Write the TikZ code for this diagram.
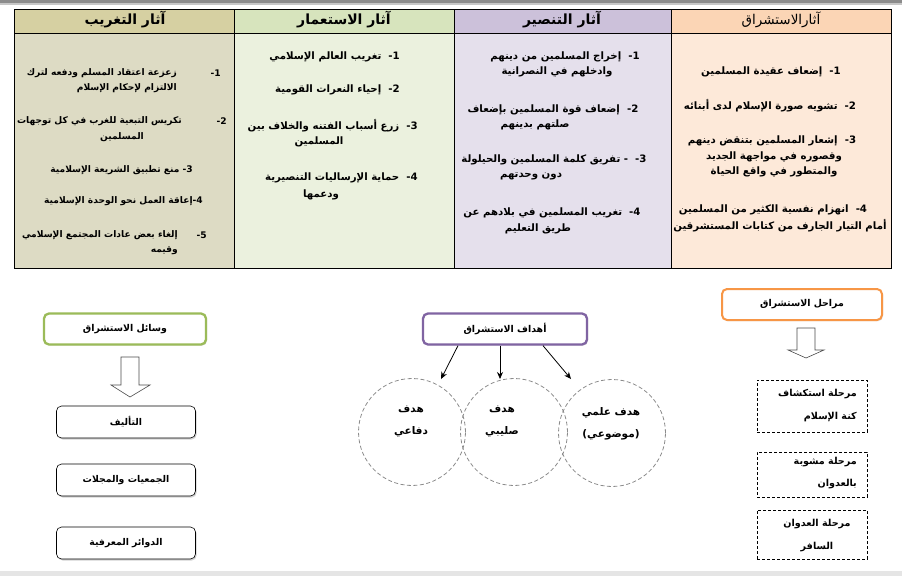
\documentclass[tikz,border=0pt]{standalone}
\usepackage{fontspec}
\newfontfamily\arabicfont[Script=Arabic]{DejaVu Sans}
\TeXXeTstate=1
\usetikzlibrary{arrows.meta,shadows}
\newcommand\ar[1]{\beginR #1\endR}
\definecolor{hdA}{HTML}{D6D0A2}
\definecolor{bdA}{HTML}{DDDBC4}
\definecolor{hdB}{HTML}{D7E4BD}
\definecolor{bdB}{HTML}{EBF1DE}
\definecolor{hdC}{HTML}{CCC1DA}
\definecolor{bdC}{HTML}{E5E0EC}
\definecolor{hdD}{HTML}{FBD5B5}
\definecolor{bdD}{HTML}{FDE9D9}
\definecolor{olivebd}{HTML}{9BBB59}
\definecolor{purplebd}{HTML}{8064A2}
\definecolor{orangebd}{HTML}{F79646}
\begin{document}
\begin{tikzpicture}[x=1pt,y=-1pt,
  txt/.style={font=\arabicfont\bfseries\fontsize{10.2}{12}\selectfont, inner sep=0pt},
  txs/.style={font=\arabicfont\bfseries\fontsize{9.1}{11}\selectfont, inner sep=0pt},
  hdr/.style={font=\arabicfont\bfseries\fontsize{14}{16}\selectfont, inner sep=0pt},
  re/.style={anchor=east},
  roundbox/.style={draw=black, line width=0.6pt, fill=white, rounded corners=5pt,
    minimum width=139pt, minimum height=32pt, inner sep=0pt,
    font=\arabicfont\bfseries\fontsize{9.3}{11}\selectfont,
    drop shadow={shadow xshift=1.2pt, shadow yshift=-1.5pt, fill=black!35}},
  headbox/.style={fill=white, rounded corners=5pt, line width=2.3pt, inner sep=0pt,
    minimum height=31pt, font=\arabicfont\bfseries\fontsize{9.4}{11}\selectfont,
    drop shadow={shadow xshift=1pt, shadow yshift=-1.2pt, fill=black!25}},
  dashbox/.style={draw=black, dashed, dash pattern=on 3pt off 2pt, line width=0.6pt,
    minimum width=110pt, inner sep=0pt},
  goal/.style={circle, draw=black!45, dash pattern=on 4pt off 2.5pt, line width=0.8pt,
    minimum size=107pt, inner sep=0pt},
  gtxt/.style={txt, align=center, font=\arabicfont\bfseries\fontsize{10.5}{22}\selectfont},
  hollow/.style={draw=black!70, fill=white, line width=0.6pt, line join=miter},
  arr/.style={-{Stealth[length=7pt,width=6pt]}, line width=0.8pt}
]
\useasboundingbox (0,0) rectangle (902,576);
\fill[white] (0,0) rectangle (902,576);
\fill[black!45] (0,0) rectangle (902,2.5);
\fill[black!22] (0,2.5) rectangle (902,5);
\fill[black!10] (0,571) rectangle (902,576);

% ---------- table ----------
\fill[hdA] (14,9) rectangle (234,33);  \fill[bdA] (14,33) rectangle (234,268);
\fill[hdB] (234,9) rectangle (454,33); \fill[bdB] (234,33) rectangle (454,268);
\fill[hdC] (454,9) rectangle (671,33); \fill[bdC] (454,33) rectangle (671,268);
\fill[hdD] (671,9) rectangle (891,33); \fill[bdD] (671,33) rectangle (891,268);
\draw[line width=0.8pt] (14,9) rectangle (891,268);
\draw[line width=0.8pt] (14,33) -- (891,33);
\foreach \xx in {234,454,671} \draw[line width=0.8pt] (\xx,9) -- (\xx,268);

\node[hdr] (h1) at (125,20) {\ar{آثار التغريب}};
\node[hdr] (h2) at (344,20) {\ar{آثار الاستعمار}};
\node[hdr] (h3) at (562,20) {\ar{آثار التنصير}};
\node[hdr, font=\arabicfont\fontsize{13.5}{16}\selectfont] (h4) at (781,20) {\ar{آثارالاستشراق}};

% column 1
\node[txs,re] (n11) at (221,73) {\ar{1-}};
\node[txs,re] (t11a) at (177,73) {\ar{زعزعة اعتقاد المسلم ودفعه لترك}};
\node[txs,re] (t11b) at (177,88) {\ar{الالتزام لإحكام الإسلام}};
\node[txs,re] (n12) at (227,121) {\ar{2-}};
\node[txs,re] (t12a) at (182,121) {\ar{تكريس التبعية للغرب في كل توجهات}};
\node[txs] (t12b) at (122,137) {\ar{المسلمين}};
\node[txs,re] (t13) at (193,170) {\ar{3- منع تطبيق الشريعة الإسلامية}};
\node[txs,re] (t14) at (203,201) {\ar{4-إعاقة العمل نحو الوحدة الإسلامية}};
\node[txs,re] (n15) at (207,235) {\ar{5-}};
\node[txs,re] (t15a) at (178,235) {\ar{إلغاء بعض عادات المجتمع الإسلامي}};
\node[txs,re] (t15b) at (178,251) {\ar{وقيمه}};

% column 2
\node[txt,re] (t21) at (400,57) {\ar{1-~~تغريب العالم الإسلامي}};
\node[txt,re] (t22) at (400,90) {\ar{2-~~إحياء النعرات القومية}};
\node[txt,re] (t23a) at (418,126) {\ar{3-~~زرع أسباب الفتنه والخلاف بين}};
\node[txt] (t23b) at (319,142) {\ar{المسلمين}};
\node[txt,re] (t24a) at (418,178) {\ar{4-~~حماية الإرساليات التنصيرية}};
\node[txt] (t24b) at (321,195) {\ar{ودعمها}};

% column 3
\node[txt] (t31a) at (565,57) {\ar{1-~~إخراج المسلمين من دينهم}};
\node[txt] (t31b) at (557,72) {\ar{وادخلهم في النصرانية}};
\node[txt] (t32a) at (553,110) {\ar{2-~~إضعاف قوة المسلمين بإضعاف}};
\node[txt] (t32b) at (535,125) {\ar{صلتهم بدينهم}};
\node[txt] (t33a) at (554,160) {\ar{3-~~- تفريق كلمة المسلمين والحيلولة}};
\node[txt] (t33b) at (531,176) {\ar{دون وحدتهم}};
\node[txt] (t34a) at (552,213) {\ar{4-~~تغريب المسلمين في بلادهم عن}};
\node[txt] (t34b) at (538,229) {\ar{طريق التعليم}};

% column 4
\node[txt] (t41) at (771,72) {\ar{1-~~إضعاف عقيدة المسلمين}};
\node[txt] (t42) at (770,106) {\ar{2-~~تشويه صورة الإسلام لدى أبنائه}};
\node[txt] (t43a) at (772,141) {\ar{3-~~إشعار المسلمين بتنقض دينهم}};
\node[txt] (t43b) at (774,157) {\ar{وقصوره في مواجهة الجديد}};
\node[txt] (t43c) at (774,172) {\ar{والمتطور في واقع الحياة}};
\node[txt] (t44a) at (773,210) {\ar{4-~~انهزام نفسية الكثير من المسلمين}};
\node[txt] (t44b) at (780,226) {\ar{أمام التيار الجارف من كتابات المستشرقين}};

% ---------- left: means ----------
\node[headbox, draw=olivebd, minimum width=162pt] (means) at (125,329) {\ar{وسائل الاستشراق}};
\draw[hollow] (121,357) -- (139,357) -- (139,385) -- (150,385) -- (130,397)
  -- (111,385) -- (121,385) -- cycle;
\node[roundbox] (m1) at (126,422) {\ar{التأليف}};
\node[roundbox] (m2) at (126,480) {\ar{الجمعيات والمجلات}};
\node[roundbox] (m3) at (126,543) {\ar{الدوائر المعرفية}};

% ---------- middle: goals ----------
\node[headbox, draw=purplebd, minimum width=164pt] (goals) at (505,329) {\ar{أهداف الاستشراق}};
\node[goal] (g1) at (412,432) {};
\node[goal] (g2) at (514,432) {};
\node[goal] (g3) at (612,433) {};
\node[gtxt] (g1t) at (411,421) {\ar{هدف}\\\ar{دفاعي}};
\node[gtxt] (g2t) at (502,421) {\ar{هدف}\\\ar{صليبي}};
\node[gtxt] (g3t) at (611,424) {\ar{هدف علمي}\\\ar{(موضوعي)}};
\coordinate (e1) at (441,379);
\coordinate (e2) at (500,379);
\coordinate (e3) at (571,379);
\draw[arr] ([xshift=-47pt]goals.south) -- (e1);
\draw[arr] ([xshift=-5pt]goals.south) -- (e2);
\draw[arr] ([xshift=38pt]goals.south) -- (e3);

% ---------- right: stages ----------
\node[headbox, draw=orangebd, minimum width=160pt, line width=2pt] (stages) at (802,304.5) {\ar{مراحل الاستشراق}};
\draw[hollow] (797,328) -- (815,328) -- (815,350) -- (824,350) -- (806,358)
  -- (788,350) -- (797,350) -- cycle;
\node[dashbox, minimum height=52pt] (s1) at (812,406) {};
\node[dashbox, minimum height=45pt] (s2) at (812,474.5) {};
\node[dashbox, minimum height=49pt] (s3) at (812,534.5) {};
\node[txt, align=right, font=\arabicfont\bfseries\fontsize{9.6}{23}\selectfont, anchor=east] (s1t) at (857,406) {\ar{مرحلة استكشاف}\\\ar{كنة الإسلام}};
\node[txt, align=right, font=\arabicfont\bfseries\fontsize{9.6}{22}\selectfont, anchor=east] (s2t) at (857,473) {\ar{مرحلة مشوبة}\\\ar{بالعدوان}};
\node[txt, align=center, font=\arabicfont\bfseries\fontsize{9.6}{23}\selectfont] (s3t) at (817,536) {\ar{مرحلة العدوان}\\\ar{السافر}};
\end{tikzpicture}
\end{document}
